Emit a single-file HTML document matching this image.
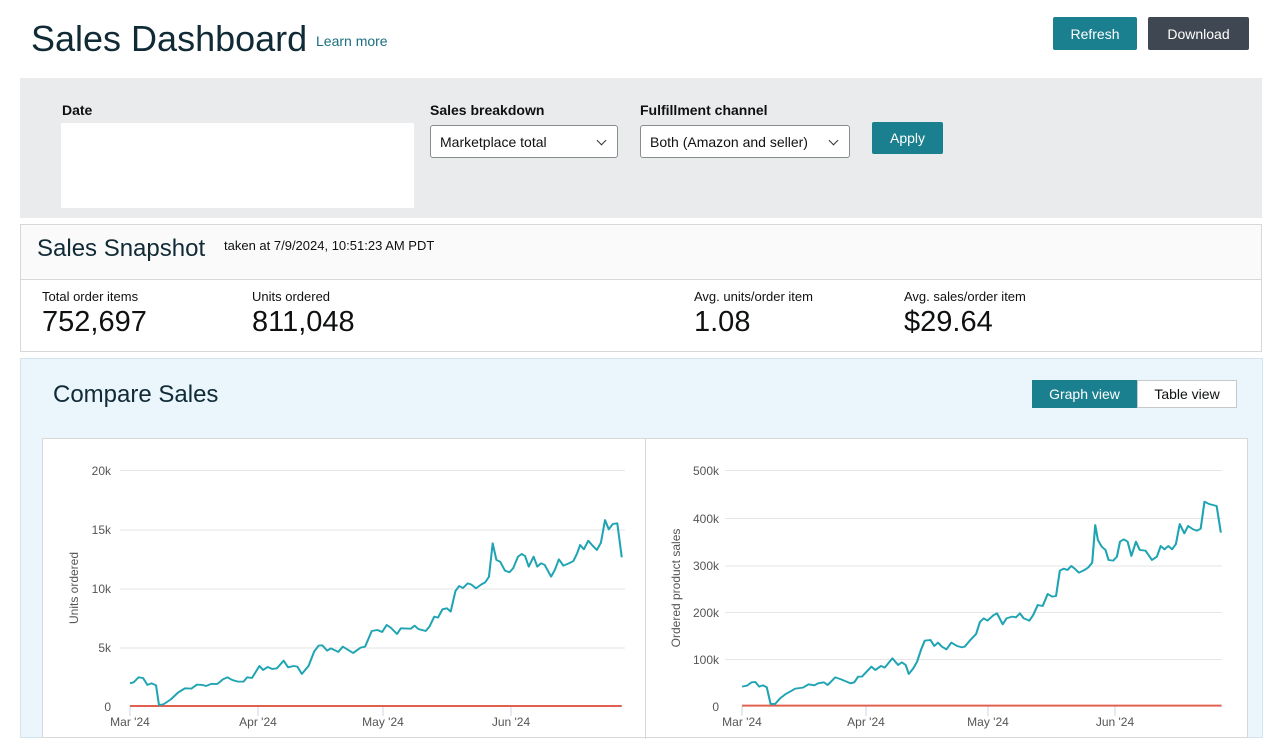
<!DOCTYPE html>
<html><head><meta charset="utf-8"><style>
*{box-sizing:border-box;margin:0;padding:0}
body{width:1263px;height:733px;overflow:hidden;background:#fff;font-family:"Liberation Sans",Arial,sans-serif;color:#0f1111;position:relative}
.a{position:absolute;white-space:nowrap}
.btn{position:absolute;color:#fff;font-size:14px;display:flex;align-items:center;justify-content:center;border-radius:2px}
.lbl{font-size:14px;font-weight:bold;color:#0f1111}
.sel{position:absolute;background:#fff;border:1px solid #888c8c;border-radius:3px;font-size:14px;padding:8px 9px;height:33px}
.sel:after{content:"";position:absolute;right:12px;top:11px;width:6px;height:6px;border-right:1.6px solid #333;border-bottom:1.6px solid #333;transform:rotate(45deg)}
.ml{font-size:13px;color:#0f1111}
.mv{font-size:29px;color:#0f1111}
</style></head><body>
<div class="a" style="left:31px;top:18px;font-size:36px;color:#102a36">Sales Dashboard</div>
<div class="a" style="left:316px;top:33px;font-size:14px;color:#1a6f80">Learn more</div>
<div class="btn" style="left:1053px;top:17px;width:84px;height:33px;background:#1a7f8e">Refresh</div>
<div class="btn" style="left:1148px;top:17px;width:101px;height:33px;background:#3f4852">Download</div>

<div class="a" style="left:20px;top:78px;width:1242px;height:140px;background:#e9ebed"></div>
<div class="a lbl" style="left:62px;top:102px">Date</div>
<div class="a" style="left:61px;top:123px;width:353px;height:85px;background:#fff"></div>
<div class="a lbl" style="left:430px;top:102px">Sales breakdown</div>
<div class="sel" style="left:430px;top:125px;width:188px">Marketplace total</div>
<div class="a lbl" style="left:640px;top:102px">Fulfillment channel</div>
<div class="sel" style="left:640px;top:125px;width:210px">Both (Amazon and seller)</div>
<div class="btn" style="left:872px;top:122px;width:71px;height:32px;background:#1a7f8e">Apply</div>

<div class="a" style="left:20px;top:224px;width:1242px;height:128px;border:1px solid #d5d9d9;background:#fff"></div>
<div class="a" style="left:21px;top:225px;width:1240px;height:55px;background:#fafafa;border-bottom:1px solid #d5d9d9"></div>
<div class="a" style="left:37px;top:235px;font-size:24px;color:#102a36">Sales Snapshot</div>
<div class="a" style="left:224px;top:238px;font-size:13px">taken at 7/9/2024, 10:51:23 AM PDT</div>
<div class="a ml" style="left:42px;top:289px">Total order items</div>
<div class="a mv" style="left:42px;top:306px">752,697</div>
<div class="a ml" style="left:252px;top:289px">Units ordered</div>
<div class="a mv" style="left:252px;top:306px">811,048</div>
<div class="a ml" style="left:694px;top:289px">Avg. units/order item</div>
<div class="a mv" style="left:694px;top:306px">1.08</div>
<div class="a ml" style="left:904px;top:289px">Avg. sales/order item</div>
<div class="a mv" style="left:904px;top:306px">$29.64</div>

<div class="a" style="left:20px;top:358px;width:1243px;height:380px;background:#eaf5fc;border:1px solid #d5e3ec"></div>
<div class="a" style="left:53px;top:381px;font-size:24px;color:#102a36">Compare Sales</div>
<div class="btn" style="left:1032px;top:380px;width:105px;height:28px;background:#1a7f8e;border-radius:0">Graph view</div>
<div class="btn" style="left:1137px;top:380px;width:100px;height:28px;background:#fff;color:#0f1111;border:1px solid #c5c9c9;border-radius:0">Table view</div>
<div class="a" style="left:42px;top:438px;width:1206px;height:300px;background:#fff;border:1px solid #d5d9d9"></div>
<div class="a" style="left:645px;top:439px;width:1px;height:300px;background:#d5d9d9"></div>

<svg class="a" style="left:0;top:0" width="1263" height="733" font-family="Liberation Sans,sans-serif" font-size="12" fill="#555">
<g stroke="#e6e6e6" stroke-width="1"><line x1="120" x2="625" y1="470.5" y2="470.5"/><line x1="120" x2="625" y1="530" y2="530"/><line x1="120" x2="625" y1="589" y2="589"/><line x1="120" x2="625" y1="648" y2="648"/></g>
<g stroke="#ccd6eb"><line x1="130" x2="130" y1="706" y2="716"/><line x1="258" x2="258" y1="706" y2="716"/><line x1="383" x2="383" y1="706" y2="716"/><line x1="511" x2="511" y1="706" y2="716"/></g>
<g text-anchor="end"><text x="111" y="475">20k</text><text x="111" y="534">15k</text><text x="111" y="593">10k</text><text x="111" y="652">5k</text><text x="111" y="711">0</text></g>
<g text-anchor="middle"><text x="130" y="726">Mar '24</text><text x="258" y="726">Apr '24</text><text x="383" y="726">May '24</text><text x="511" y="726">Jun '24</text></g>
<text transform="translate(78,588) rotate(-90)" text-anchor="middle">Units ordered</text>

<g stroke="#e6e6e6" stroke-width="1"><line x1="725" x2="1222" y1="470.5" y2="470.5"/><line x1="725" x2="1222" y1="518.5" y2="518.5"/><line x1="725" x2="1222" y1="566" y2="566"/><line x1="725" x2="1222" y1="612.5" y2="612.5"/><line x1="725" x2="1222" y1="659.5" y2="659.5"/></g>
<g stroke="#ccd6eb"><line x1="742" x2="742" y1="706" y2="716"/><line x1="866" x2="866" y1="706" y2="716"/><line x1="988" x2="988" y1="706" y2="716"/><line x1="1115" x2="1115" y1="706" y2="716"/></g>
<g text-anchor="end"><text x="719" y="475">500k</text><text x="719" y="523">400k</text><text x="719" y="570">300k</text><text x="719" y="617">200k</text><text x="719" y="664">100k</text><text x="719" y="711">0</text></g>
<g text-anchor="middle"><text x="742" y="726">Mar '24</text><text x="866" y="726">Apr '24</text><text x="988" y="726">May '24</text><text x="1115" y="726">Jun '24</text></g>
<text transform="translate(680,588) rotate(-90)" text-anchor="middle">Ordered product sales</text>

<g transform="translate(59.3,450) scale(0.372,0.3333)">
<line x1="190" x2="1512" y1="768" y2="768" stroke="#e0604f" stroke-width="6"/>
<polyline fill="none" stroke="#1ea4b3" stroke-width="5.5" stroke-linejoin="round" points="190,700 200,697 213,682 225,684 237,705 248,700 260,706 268,765 280,763 300,748 320,727 338,715 355,716 370,704 385,705 395,708 408,702 425,702 440,688 452,682 465,690 480,695 495,695 505,682 518,684 538,648 548,660 560,651 572,657 585,655 603,632 615,652 630,648 640,650 652,672 670,648 685,605 697,587 707,586 720,602 730,595 750,606 762,590 790,609 810,593 822,590 840,543 855,540 868,546 880,525 890,532 908,552 918,535 945,536 955,527 965,537 985,543 995,530 1008,500 1018,503 1030,478 1042,475 1052,485 1065,423 1075,408 1085,414 1098,400 1108,404 1120,415 1135,403 1145,397 1155,380 1165,280 1175,330 1185,335 1198,362 1210,367 1220,355 1233,320 1243,312 1252,318 1262,350 1275,320 1285,350 1295,340 1305,345 1322,380 1332,360 1343,328 1355,347 1370,340 1382,333 1392,310 1400,285 1410,298 1422,272 1432,285 1445,300 1456,278 1467,210 1477,238 1488,222 1500,220 1512,322"/>
</g>
<g transform="translate(652.6,450) scale(0.3806,0.3333)">
<line x1="235" x2="1495" y1="767" y2="767" stroke="#e0604f" stroke-width="6"/>
<polyline fill="none" stroke="#1ea4b3" stroke-width="5.5" stroke-linejoin="round" points="235,710 248,707 260,697 270,696 280,710 290,706 300,712 310,762 322,762 335,745 350,732 375,716 395,713 410,703 425,706 435,700 450,697 460,705 480,682 495,688 505,693 520,700 530,697 540,680 550,680 565,662 575,650 585,660 600,648 610,653 630,625 645,645 655,637 665,645 673,672 685,655 695,635 705,600 715,572 730,570 740,588 750,578 760,590 772,598 785,578 800,588 812,592 820,590 835,570 850,552 860,516 870,505 880,512 895,496 905,490 920,523 930,505 945,500 955,502 965,490 975,505 990,512 1000,495 1012,465 1025,468 1038,432 1050,440 1060,438 1070,362 1080,356 1090,360 1100,348 1110,357 1120,368 1135,360 1145,352 1155,338 1163,225 1170,270 1180,290 1190,300 1198,330 1210,332 1220,320 1228,275 1238,268 1248,275 1258,318 1270,275 1280,300 1295,302 1300,310 1312,330 1325,320 1335,288 1345,298 1355,288 1365,298 1375,282 1385,222 1397,250 1407,228 1420,238 1430,242 1440,236 1450,155 1462,162 1482,168 1493,248"/>
</g>
</svg>
</body></html>
